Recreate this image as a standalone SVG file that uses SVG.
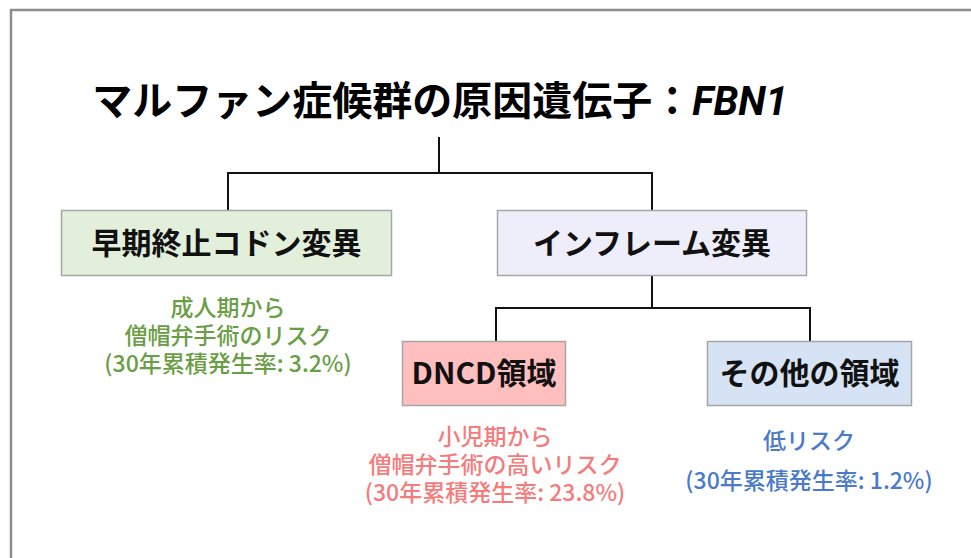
<svg xmlns="http://www.w3.org/2000/svg" width="971" height="558" viewBox="0 0 971 558">
<style>
  text { font-family: "Noto Sans CJK JP", "Noto Sans", sans-serif; text-anchor: middle; }
  .title { font-size: 40px; font-weight: bold; fill: #000; }
  .lbl { font-size: 30px; font-weight: bold; fill: #111; }
  .note { font-size: 23px; font-weight: 500; }
  .box { stroke: #a6a6a6; stroke-width: 1.5; }
  .conn { fill: none; stroke: #111; stroke-width: 2; }
</style>
<rect width="971" height="558" fill="#ffffff"/>
<path d="M11 558 V10 H971" fill="none" stroke="#8c8c8c" stroke-width="2.5"/>
<g id="title">
  <text class="title" x="440" y="115">マルファン症候群の原因遺伝子：<tspan font-style="italic" font-family="Roboto, 'Noto Sans', sans-serif">FBN1</tspan></text>
</g>
<g id="connectors">
  <path class="conn" d="M439 137 V173 M228 210 V173 H652 V210"/>
  <path class="conn" d="M652 276 V308 M496 341 V308 H810 V341"/>
</g>
<g id="node-nonsense">
  <rect class="box" x="61.5" y="210.5" width="330" height="65" fill="#e2efda"/>
  <text class="lbl" x="226.5" y="254">早期終止コドン変異</text>
</g>
<g id="node-inframe">
  <rect class="box" x="497.5" y="210.5" width="309" height="65" fill="#eeeefb"/>
  <text class="lbl" x="652" y="254">インフレーム変異</text>
</g>
<g id="node-dncd">
  <rect class="box" x="402.5" y="341.5" width="163" height="64" fill="#ffbfbf"/>
  <text class="lbl" x="484" y="384">DNCD領域</text>
</g>
<g id="node-other">
  <rect class="box" x="707.5" y="341.5" width="204" height="64" fill="#d5e3f4"/>
  <text class="lbl" x="809.5" y="384">その他の領域</text>
</g>
<g id="note-nonsense" fill="#6a9e46">
  <text class="note" x="228" y="316">成人期から</text>
  <text class="note" x="228" y="344">僧帽弁手術のリスク</text>
  <text class="note" x="228" y="372">(30年累積発生率: 3.2%)</text>
</g>
<g id="note-dncd" fill="#f47c7c">
  <text class="note" x="495" y="445">小児期から</text>
  <text class="note" x="495" y="473">僧帽弁手術の高いリスク</text>
  <text class="note" x="495" y="501">(30年累積発生率: 23.8%)</text>
</g>
<g id="note-other" fill="#4a7ac8">
  <text class="note" x="809" y="449">低リスク</text>
  <text class="note" x="809" y="489">(30年累積発生率: 1.2%)</text>
</g>
</svg>
